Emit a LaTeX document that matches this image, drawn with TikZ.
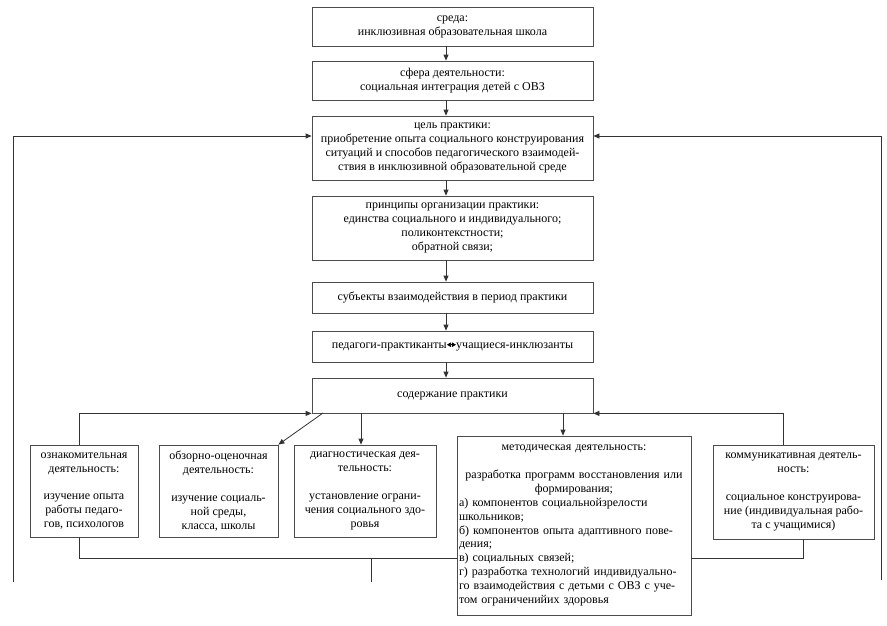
\documentclass[tikz,border=0pt]{standalone}
\usepackage{fontspec}
\setmainfont{Liberation Serif}
\usetikzlibrary{arrows.meta}
\begin{document}
\begin{tikzpicture}[x=1pt,y=-1pt,
  box/.style={draw=black!70,line width=0.8pt,inner sep=0pt,align=center,
    font=\fontsize{12}{13.9}\selectfont},
  conn/.style={draw=black!80,line width=0.8pt},
  arr/.style={conn,-{Triangle[length=6pt,width=5pt]}}]
\useasboundingbox[fill=white] (0,0) rectangle (887,625);
% top column
\node[box,minimum width=281pt,minimum height=39pt] (b1) at (452.5,26.5)
  {среда:\\инклюзивная образовательная школа};
\node[box,minimum width=281pt,minimum height=39pt] (b2) at (452.5,80.5)
  {сфера деятельности:\\социальная интеграция детей с ОВЗ};
\node[box,minimum width=281pt,minimum height=64pt] (b3) at (452.5,148)
  {цель практики:\\приобретение опыта социального конструирования\\ситуаций и способов педагогического взаимодей-\\ствия в инклюзивной  образовательной среде};
\node[box,minimum width=281pt,minimum height=64pt] (b4) at (452.5,228)
  {принципы организации практики:\\единства социального и индивидуального;\\поликонтекстности;\\обратной связи;};
\node[box,minimum width=281pt,minimum height=31pt] (b5) at (452.5,297.5)
  {субъекты взаимодействия в  период практики};
\node[box,minimum width=281pt,minimum height=31pt] (b6) at (452.5,346.5)
  {педагоги-практиканты\tikz[baseline=-0.6ex]\draw[black,line width=0.6pt,{Triangle[length=4pt,width=4.5pt]}-{Triangle[length=4pt,width=4.5pt]}] (0,0)--(9,0);учащиеся-инклюзанты};
\node[box,minimum width=281pt,minimum height=35pt] (b7) at (452.5,395.5)
  {содержание практики};
% bottom row
\node[box,minimum width=108pt,minimum height=92pt] (o1) at (84,491)
  {ознакомительная\\деятельность:\\[13.9pt]изучение опыта\\работы педаго-\\гов, психологов};
\node[box,minimum width=119pt,minimum height=92pt] (o2) at (218.5,491)
  {обзорно-оценочная\\деятельность:\\[13.9pt]изучение социаль-\\ной среды,\\класса, школы};
\node[box,minimum width=142pt,minimum height=92pt] (o3) at (365,491)
  {диагностическая дея-\\тельность:\\[13.9pt]установление ограни-\\чения социального здо-\\ровья};
\node[box,minimum width=234pt,minimum height=179pt,text width=230pt,align=left] (o4) at (574,525.5)
  {{\centering методическая деятельность:\\[13.9pt]
  разработка программ восстановления или\\формирования;\par}
  а) компонентов социальнойзрелости\\школьников;\\б) компонентов опыта адаптивного пове-\\дения;\\в) социальных связей;\\г) разработка технологий индивидуально-\\го взаимодействия с детьми с ОВЗ с уче-\\том  ограниченийих здоровья};
\node[box,minimum width=161pt,minimum height=94pt] (o5) at (793.5,492)
  {коммуникативная деятель-\\ность:\\[13.9pt]социальное конструирова-\\ние (индивидуальная рабо-\\та с учащимися)};
% helper coordinates
\coordinate (ax) at (446,0);
\coordinate (xL) at (79,0);
\coordinate (xR) at (783,0);
\coordinate (x3) at (361,0);
\coordinate (x4) at (563,0);
\coordinate (x5) at (803,0);
\coordinate (yB) at (0,558);
\coordinate (yF) at (0,136);
\coordinate (d1) at (323,413);
\coordinate (s1) at (371,558);
\coordinate (s2) at (371,582);
\coordinate (fl) at (13,582);
\coordinate (fr) at (881,580);
% column arrows
\draw[arr] (b1.south -| ax) -- (b2.north -| ax);
\draw[arr] (b2.south -| ax) -- (b3.north -| ax);
\draw[arr] (b3.south -| ax) -- (b4.north -| ax);
\draw[arr] (b4.south -| ax) -- (b5.north -| ax);
\draw[arr] (b5.south -| ax) -- (b6.north -| ax);
\draw[arr] (b6.south -| ax) -- (b7.north -| ax);
% top bus
\draw[arr] (o1.north -| xL) |- (b7.south west);
\draw[arr] (o5.north -| xR) |- (b7.south east);
\draw[arr] (d1) -- (o2.north east);
\draw[arr] (b7.south -| x3) -- (o3.north -| x3);
\draw[arr] (b7.south -| x4) -- (o4.north -| x4);
% bottom bus
\draw[conn] (o1.south -| xL) |- (o4.west |- yB);
\draw[conn] (o4.east |- yB) -| (o5.south -| x5);
\draw[conn] (s1) -- (s2);
% feedback
\draw[arr] (fl) |- (b3.west |- yF);
\draw[arr] (fr) |- (b3.east |- yF);
\end{tikzpicture}
\end{document}
